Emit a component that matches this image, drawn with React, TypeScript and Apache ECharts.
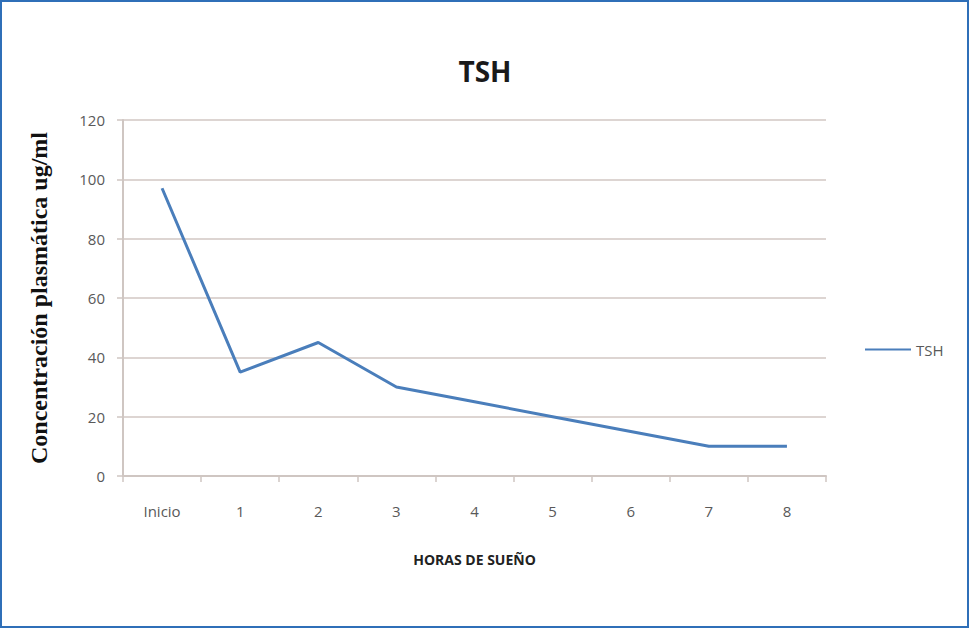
import React, { useEffect, useRef } from "react";
import * as echarts from "echarts";

const categories = ["Inicio", "1", "2", "3", "4", "5", "6", "7", "8"];
const tshValues = [97, 35, 45, 30, 25, 20, 15, 10, 10];
const yTicks = { min: 0, max: 120, interval: 20 };

export default function App() {
  const ref = useRef<HTMLDivElement>(null);
  useEffect(() => {
    if (!ref.current) return;
    const chart = echarts.init(ref.current, undefined, { renderer: "svg" });
    const grey = "#595959";
    chart.setOption({
      animation: false,
      backgroundColor: "transparent",
      title: {
        text: "TSH",
        left: 480,
        textAlign: "center",
        top: 52,
        textStyle: { fontFamily: "Open Sans, Liberation Sans, sans-serif", fontWeight: "bold", fontSize: 28, color: "#1a1a1a" },
      },
      legend: {
        data: ["TSH"],
        left: 860,
        top: 337,
        itemWidth: 46,
        itemHeight: 14,
        itemGap: 4,
        icon: "path://M0,6 L46,6 L46,8 L0,8 Z",
        textStyle: { color: grey, fontSize: 15, fontFamily: "Open Sans, sans-serif" },
      },
      grid: { left: 123, right: 143, top: 120, bottom: 152 },
      xAxis: {
        type: "category",
        data: categories,
        boundaryGap: true,
        name: "HORAS DE SUEÑO",
        nameLocation: "middle",
        nameGap: 76,
        nameTextStyle: { fontSize: 14, fontWeight: "bold", color: "#222", fontFamily: "Open Sans, sans-serif" },
        axisLine: { lineStyle: { color: "#cfc6c2", width: 2 } },
        axisTick: { show: true, alignWithLabel: false, length: 6, lineStyle: { color: "#cfc6c2", width: 1.5 } },
        axisLabel: { color: grey, fontSize: 15, margin: 27, fontFamily: "Open Sans, sans-serif" },
      },
      yAxis: {
        type: "value",
        min: yTicks.min,
        max: yTicks.max,
        interval: yTicks.interval,
        name: "Concentración plasmática ug/ml",
        nameLocation: "middle",
        nameRotate: 90,
        nameGap: 72,
        nameTextStyle: { fontSize: 24, fontWeight: "bold", color: "#111", fontFamily: "Liberation Serif, serif" },
        axisLine: { show: true, lineStyle: { color: "#cfc6c2", width: 2 } },
        axisTick: { show: true, length: 6, lineStyle: { color: "#cfc6c2", width: 1.5 } },
        axisLabel: { color: grey, fontSize: 15, margin: 18, fontFamily: "Open Sans, sans-serif" },
        splitLine: { lineStyle: { color: "#ddd5d2", width: 2 } },
      },
      series: [
        {
          name: "TSH",
          type: "line",
          data: tshValues,
          symbol: "none",
          lineStyle: { color: "#4a7ebb", width: 3 },
          itemStyle: { color: "#4a7ebb" },
        },
      ],
    });
    return () => chart.dispose();
  }, []);
  return (
    <div
      style={{
        position: "absolute",
        left: 0,
        top: 0,
        width: 969,
        height: 628,
        boxSizing: "border-box",
        border: "2px solid #2f6fb8",
        background: "#fff",
      }}
    >
      <div ref={ref} style={{ position: "absolute", left: -2, top: -2, width: 969, height: 628 }} />
    </div>
  );
}
